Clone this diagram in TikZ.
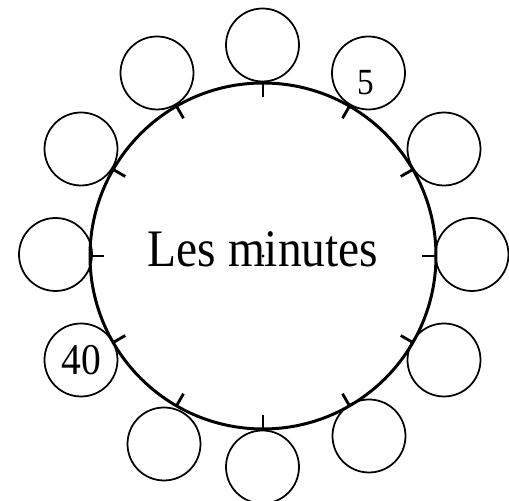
\documentclass[tikz,border=0pt]{standalone}
\usepackage{fontspec}
\setmainfont{Liberation Serif}
\usepackage{tikz}

\tikzset{
	slot/.style={shape=circle, draw, line width=1pt, minimum size=1.46cm, inner sep=0pt},
	tick/.style={line width=1.6pt},
	digit/.style={anchor=base, xscale=0.9, inner sep=0pt}
}

\begin{document}
\begin{tikzpicture}
	% Frame of the page:
	\useasboundingbox (0, 0) rectangle (10.18, 10.02);

	% Dial, centre and ticks:
	\node[shape=circle, draw, line width=1.7pt, minimum size=6.92cm, outer sep=0pt](dial) at (5.26, 4.9){};
	\fill (dial.center) circle (0.9pt);
	\draw[tick] (dial.90) -- ++(270:0.28);
	\draw[tick] (dial.60) -- ++(240:0.28);
	\draw[tick] (dial.30) -- ++(210:0.28);
	\draw[tick] (dial.0) -- ++(180:0.28);
	\draw[tick] (dial.-30) -- ++(150:0.28);
	\draw[tick] (dial.-60) -- ++(120:0.28);
	\draw[tick] (dial.-90) -- ++(90:0.28);
	\draw[tick] (dial.-120) -- ++(60:0.28);
	\draw[tick] (dial.-150) -- ++(30:0.28);
	\draw[tick] (dial.180) -- ++(0:0.28);
	\draw[tick] (dial.150) -- ++(-30:0.28);
	\draw[tick] (dial.120) -- ++(-60:0.28);

	% Minute slots round the dial:
	\node[slot](N1) at (5.25, 9.12){};
	\node[slot](N2) at (7.37, 8.56){};
	\node[slot](N3) at (8.88, 7.04){};
	\node[slot](N4) at (9.44, 4.93){};
	\node[slot](N5) at (8.88, 2.82){};
	\node[slot](N6) at (7.38, 1.30){};
	\node[slot](N7) at (5.25, 0.68){};
	\node[slot](N8) at (3.28, 1.14){};
	\node[slot](N9) at (1.62, 2.82){};
	\node[slot](N10) at (1.11, 4.93){};
	\node[slot](N11) at (1.62, 7.04){};
	\node[slot](N12) at (3.14, 8.56){};

	% Texts:
	\node[anchor=base, xscale=0.9, inner sep=0pt, font=\fontsize{30}{36}\selectfont](T1) at (5.26, 4.68){Les minutes};
	\node[digit, font=\fontsize{21}{25}\selectfont](T2) at (7.31, 8.12){5};
	\node[digit, font=\fontsize{25}{30}\selectfont](T3) at (1.63, 2.52){40};
\end{tikzpicture}
\end{document}
